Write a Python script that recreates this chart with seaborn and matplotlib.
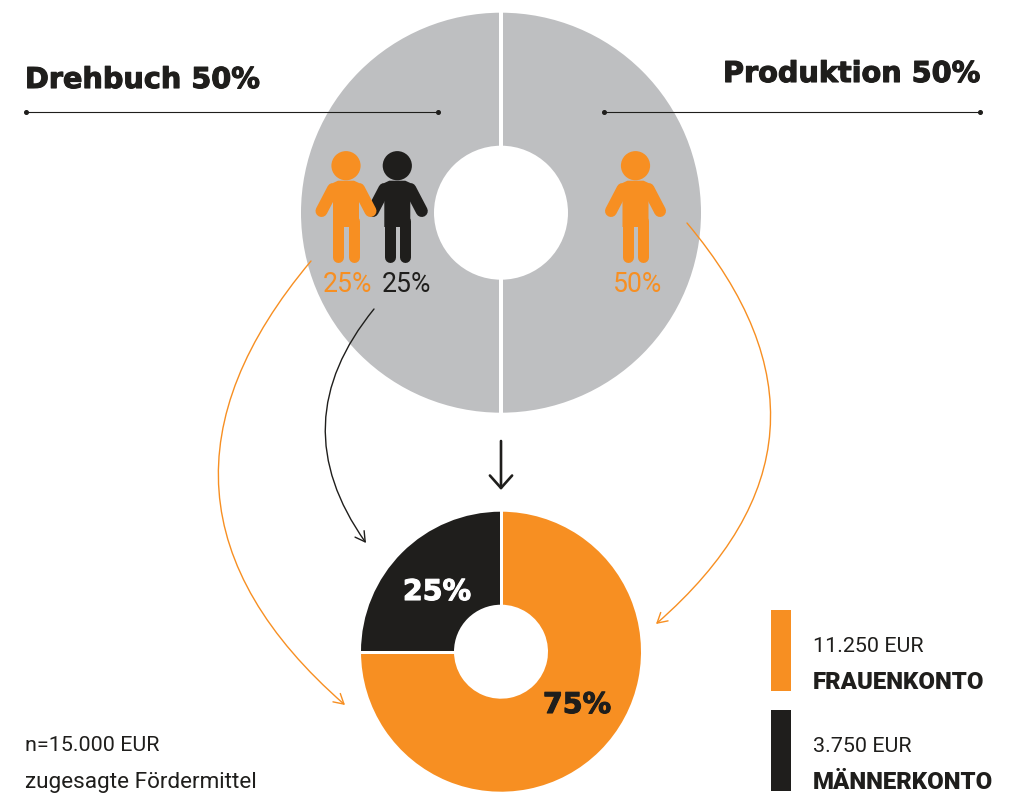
import matplotlib
matplotlib.use("Agg")
import matplotlib.pyplot as plt
import matplotlib.patheffects as pe
from matplotlib.patches import Circle, Polygon, FancyArrowPatch, Rectangle
import seaborn as sns

# budget split, upper ring
split_labels = ["Produktion 50%", "Drehbuch 50%"]
split_values = [50, 50]
# result, lower ring
result_labels = ["75%", "25%"]
result_values = [75, 25]
# legend
legend_amounts = ["11.250 EUR", "3.750 EUR"]
legend_names = ["FRAUENKONTO", "MÄNNERKONTO"]
note_lines = ["n=15.000 EUR", "zugesagte Fördermittel"]
person_labels = ["25%", "25%", "50%"]

orange = "#F78F22"
black = "#1F1E1C"
grey = "#BEBFC1"

sns.set_theme(style="white")
plt.rcParams['font.family'] = ['Roboto', 'DejaVu Sans']

W, H = 1024, 812
fig = plt.figure(figsize=(W / 100, H / 100), dpi=100)
ax = fig.add_axes([0, 0, 1, 1])


def Y(y):
    # picture rows run downwards, the axes upwards
    return H - y


def px(n):
    return n * 0.72


def person(x, color, z):
    ax.add_patch(Circle((x, Y(166.7)), 14.6, color=color, lw=0, zorder=z))
    torso = [(x - 13, Y(228)), (x - 13, Y(184)), (x - 8, Y(181.7)), (x + 8, Y(181.7)),
             (x + 13, Y(184)), (x + 13, Y(228))]
    ax.add_patch(Polygon(torso, closed=True, color=color, lw=0, zorder=z))
    for side in (-1, 1):
        ax.plot([x + side * 13, x + side * 24.5], [Y(190), Y(212)], color=color, lw=px(12),
                solid_capstyle="round", zorder=z)
        ax.plot([x + side * 7.8] * 2, [Y(222), Y(257.5)], color=color, lw=px(11),
                solid_capstyle="round", zorder=z)


def curve(start, end, rad, color):
    arrow = FancyArrowPatch((start[0], Y(start[1])), (end[0], Y(end[1])),
                            connectionstyle=f"arc3,rad={rad}", arrowstyle="->,head_length=7,head_width=4",
                            color=color, lw=1.0, shrinkA=0, shrinkB=0, zorder=3)
    ax.add_patch(arrow)


# rings, the white gaps are drawn on top so the outer edge keeps its radius
ax.pie(split_values, colors=[grey, grey], startangle=90, counterclock=True, center=(501, Y(213.7)), radius=200,
       wedgeprops=dict(width=133, linewidth=0), normalize=True)
ax.pie(result_values, colors=[orange, black], startangle=90, counterclock=False, center=(501, Y(652.7)), radius=140,
       wedgeprops=dict(width=93, linewidth=0), normalize=True)
ax.plot([501, 501], [Y(10), Y(416)], color="white", lw=px(4), zorder=2)
ax.plot([501, 501], [Y(510), Y(606)], color="white", lw=px(3), zorder=2)
ax.plot([359, 455], [Y(652.7), Y(652.7)], color="white", lw=px(3), zorder=2)

# header rules
for x0, x1 in [(26, 438), (604, 980)]:
    ax.plot([x0, x1], [Y(112.5), Y(112.5)], color=black, lw=0.8, zorder=3)
    ax.plot([x0, x1], [Y(112.5), Y(112.5)], ls="none", marker="o", ms=2.6, color=black, zorder=3)

head = dict(family="DejaVu Sans", fontweight="bold", fontsize=px(28.7), va="center", color=black,
            path_effects=[pe.withStroke(linewidth=0.8, foreground=black)])
ax.text(25, Y(81), split_labels[1], ha="left", **head)
ax.text(980, Y(75), split_labels[0], ha="right", **head)

# people
person(397.3, black, 4)
person(346, orange, 5)
person(635.5, orange, 5)
thin = dict(family="Roboto", fontweight="normal", va="center", ha="center", fontsize=px(26.5), zorder=5)
ax.text(347.5, Y(284), person_labels[0], color=orange, **thin)
ax.text(406, Y(284), person_labels[1], color=black, **thin)
ax.text(638, Y(284), person_labels[2], color=orange, **thin)

# flows
curve((311, 262), (345, 706), 0.49, orange)
curve((374, 310), (366, 544), 0.38, black)
curve((687, 224), (656, 625), -0.49, orange)
ax.add_patch(FancyArrowPatch((501, Y(442)), (501, Y(491)), arrowstyle="->,head_length=9,head_width=8",
                             color=black, lw=1.9, shrinkA=0, shrinkB=0))

# ring labels
ax.text(577, Y(706), result_labels[0], color=black, family="DejaVu Sans", fontweight="bold", fontsize=px(28.5),
        va="center", ha="center", zorder=5, path_effects=[pe.withStroke(linewidth=0.8, foreground=black)])
ax.text(437, Y(593), result_labels[1], color="white", family="DejaVu Sans", fontweight="bold", fontsize=px(28.5),
        va="center", ha="center", zorder=5, path_effects=[pe.withStroke(linewidth=0.8, foreground="white")])

# legend
for y0, y1, color, amount, name, y_a, y_n in [(611, 692, orange, legend_amounts[0], legend_names[0], 647, 683),
                                               (711, 792, black, legend_amounts[1], legend_names[1], 747, 783)]:
    ax.add_patch(Rectangle((771, Y(y1)), 20, y1 - y0, color=color, lw=0))
    ax.text(813, Y(y_a), amount, family="Roboto", fontweight="normal", fontsize=px(21.5), color=black, va="center")
    ax.text(813, Y(y_n), name, family="Roboto", fontweight="black", fontsize=px(24), color=black, va="center")

# note
ax.text(25, Y(746), note_lines[0], family="Roboto", fontweight="normal", fontsize=px(21.5), color=black, va="center")
ax.text(25, Y(783), note_lines[1], family="Roboto", fontweight="normal", fontsize=px(22.5), color=black, va="center")

ax.set_xlim(0, W)
ax.set_ylim(0, H)
ax.set_aspect("auto")
ax.axis("off")
fig.savefig("out.png", dpi=100, facecolor="white")
plt.close(fig)
